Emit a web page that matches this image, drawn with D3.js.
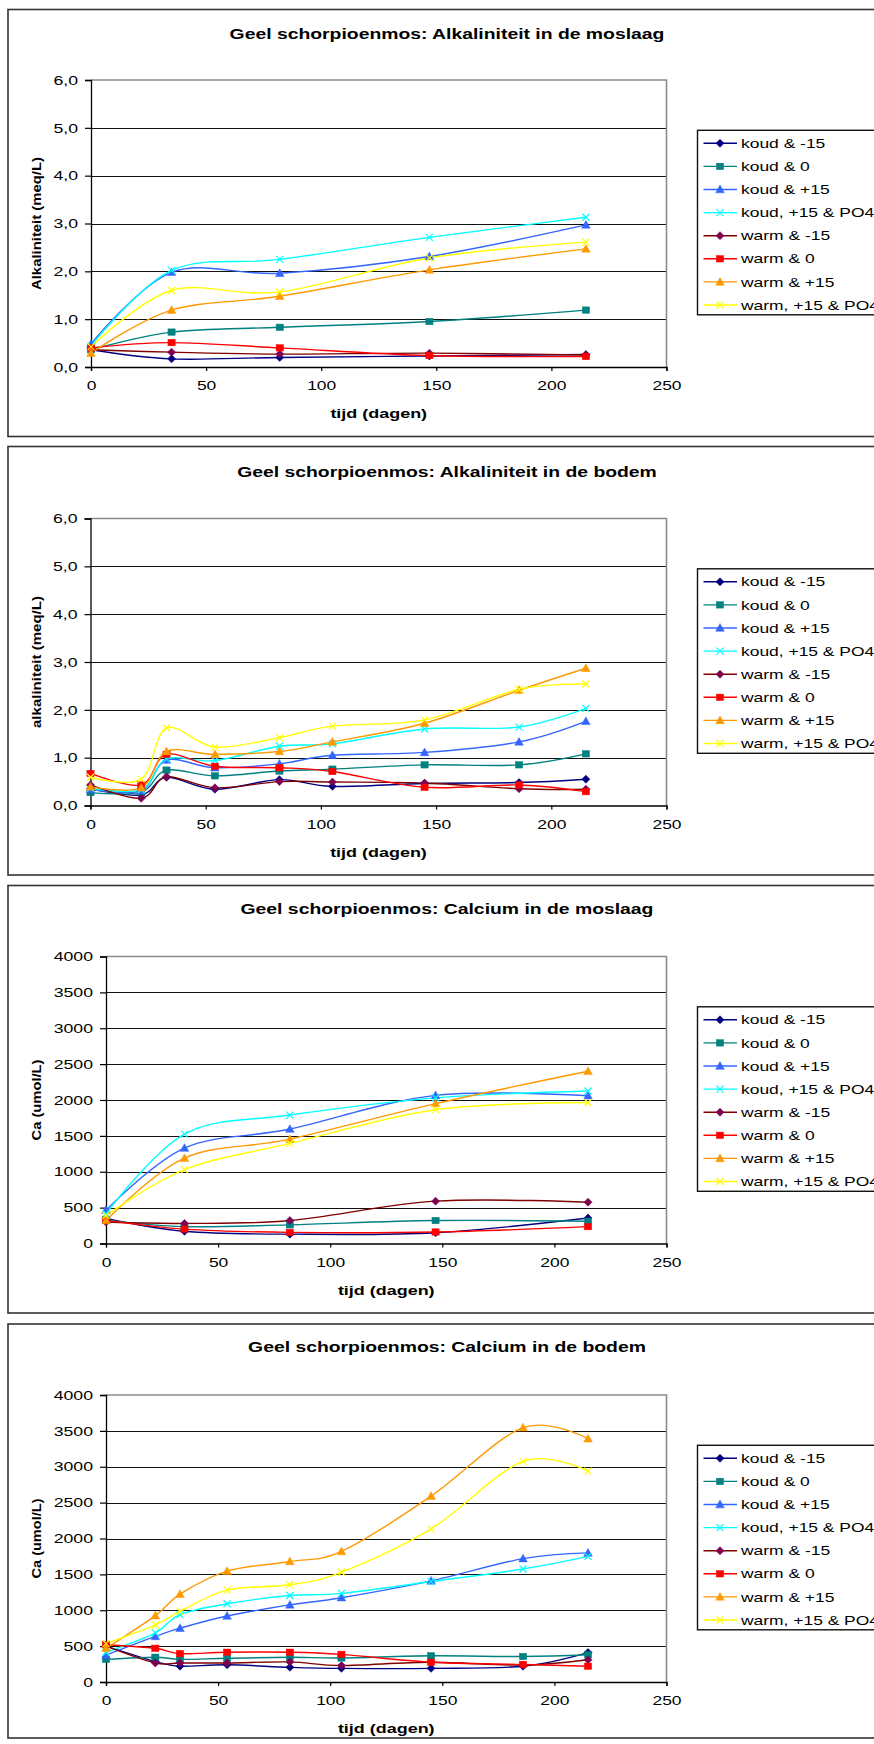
<!DOCTYPE html>
<html>
<head>
<meta charset="utf-8">
<script src="https://cdn.jsdelivr.net/npm/d3@7"></script>
<style>
  html, body { margin: 0; padding: 0; background: #fff; }
  svg { display: block; font-family: "Liberation Sans", Arial, sans-serif; }
</style>
</head>
<body>
<svg id="page" width="874" height="1744"></svg>
<script>
// ---- series names, colours and marker shapes ----
const seriesNames = ["koud & -15", "koud & 0", "koud & +15", "koud, +15 & PO4",
                     "warm & -15", "warm & 0", "warm & +15", "warm, +15 & PO4"];
const lineColors   = ["#000080", "#008080", "#3366FF", "#00FFFF", "#800000", "#FF0000", "#FF9900", "#FFFF00"];
const markerColors = ["#000080", "#008080", "#3366FF", "#00FFFF", "#800050", "#FF0000", "#FF9900", "#FFFF00"];
const markerShapes = ["diamond", "square", "triangle", "x", "diamond", "square", "triangle", "x"];

// ---- sampling days ----
const daysMoss = [0, 35, 82, 147, 215];
const daysSoil = [0, 22, 33, 54, 82, 105, 145, 186, 215];

// ---- alkalinity in the moss layer (meq/L) ----
const alkMoss = [
  [0.36, 0.17, 0.20, 0.23, 0.26],
  [0.36, 0.73, 0.83, 0.95, 1.19],
  [0.48, 1.98, 1.96, 2.31, 2.97],
  [0.44, 2.02, 2.25, 2.71, 3.13],
  [0.36, 0.31, 0.27, 0.29, 0.25],
  [0.40, 0.51, 0.40, 0.24, 0.22],
  [0.29, 1.19, 1.48, 2.03, 2.47],
  [0.42, 1.60, 1.57, 2.28, 2.61]
];

// ---- alkalinity in the soil (meq/L) ----
const alkSoil = [
  [0.35, 0.22, 0.59, 0.34, 0.54, 0.40, 0.46, 0.48, 0.55],
  [0.27, 0.28, 0.74, 0.62, 0.72, 0.76, 0.85, 0.85, 1.08],
  [0.34, 0.31, 0.95, 0.79, 0.87, 1.05, 1.11, 1.33, 1.76],
  [0.36, 0.33, 0.97, 0.94, 1.24, 1.29, 1.60, 1.64, 2.03],
  [0.43, 0.15, 0.60, 0.37, 0.50, 0.49, 0.47, 0.35, 0.34],
  [0.67, 0.43, 1.07, 0.82, 0.79, 0.71, 0.38, 0.43, 0.29],
  [0.39, 0.37, 1.13, 1.07, 1.13, 1.33, 1.72, 2.41, 2.87],
  [0.59, 0.55, 1.62, 1.22, 1.42, 1.66, 1.79, 2.43, 2.54]
];

// ---- calcium in the moss layer (umol/L) ----
const caMoss = [
  [350, 170, 130, 150, 355],
  [330, 235, 260, 320, 310],
  [465, 1330, 1595, 2065, 2060],
  [415, 1525, 1790, 2030, 2125],
  [300, 280, 320, 590, 575],
  [325, 200, 155, 160, 235],
  [320, 1190, 1455, 1950, 2400],
  [390, 1030, 1395, 1865, 1965]
];

// ---- calcium in the soil (umol/L) ----
const caSoil = [
  [500, 285, 220, 240, 205, 190, 190, 220, 410],
  [315, 345, 315, 330, 345, 335, 365, 355, 380],
  [375, 635, 750, 920, 1075, 1175, 1410, 1720, 1800],
  [415, 685, 940, 1090, 1205, 1235, 1400, 1575, 1750],
  [500, 265, 265, 265, 280, 230, 275, 235, 310],
  [520, 470, 395, 415, 415, 385, 275, 245, 220],
  [470, 925, 1225, 1545, 1680, 1820, 2590, 3545, 3390],
  [535, 795, 985, 1280, 1355, 1530, 2135, 3075, 2940]
];

// ---- titles and tick values ----
const chartTitles = [
  "Geel schorpioenmos: Alkaliniteit in de moslaag",
  "Geel schorpioenmos: Alkaliniteit in de bodem",
  "Geel schorpioenmos: Calcium in de moslaag",
  "Geel schorpioenmos: Calcium in de bodem"
];
const yTitles = ["Alkaliniteit (meq/L)", "alkaliniteit (meq/L)", "Ca (umol/L)", "Ca (umol/L)"];
const xTitle = "tijd (dagen)";
const xTicks = [0, 50, 100, 150, 200, 250];
const alkTicks = [0, 1, 2, 3, 4, 5, 6];
const caTicks = [0, 500, 1000, 1500, 2000, 2500, 3000, 3500, 4000];

// ---- panel layout ----
const panels = [
  {days: daysMoss, data: alkMoss, ticks: alkTicks, dec: true,  frameTop: 9.5,   frameBottom: 436.5, titleY: 33.5,  plotTop: 80,    left: 91,  yTitleLen: 133},
  {days: daysSoil, data: alkSoil, ticks: alkTicks, dec: true,  frameTop: 446.5, frameBottom: 875,   titleY: 471.5, plotTop: 518.5, left: 90.5, yTitleLen: 132},
  {days: daysMoss, data: caMoss,  ticks: caTicks,  dec: false, frameTop: 885.5, frameBottom: 1313,  titleY: 909,   plotTop: 956.5, left: 106, yTitleLen: 81},
  {days: daysSoil, data: caSoil,  ticks: caTicks,  dec: false, frameTop: 1324,  frameBottom: 1738,  titleY: 1347,  plotTop: 1395,  left: 106, yTitleLen: 80}
];
const plotRight = 666.5;
const plotHeight = 287;

const svg = d3.select("#page");
svg.append("rect").attr("width", 874).attr("height", 1744).attr("fill", "#fff");

// widen text horizontally by factor k while keeping its anchor
function widen(sel, k) {
  sel.each(function () {
    const w = this.getComputedTextLength();
    if (w > 0) {
      this.setAttribute("textLength", (w * k).toFixed(1));
      this.setAttribute("lengthAdjust", "spacingAndGlyphs");
    }
  });
}

function drawMarker(g, shape, color) {
  if (shape === "diamond") {
    g.append("path").attr("d", "M0,-4L4,0L0,4L-4,0Z").attr("fill", color).attr("stroke", color).attr("stroke-width", 0.6);
  } else if (shape === "square") {
    g.append("rect").attr("x", -3.6).attr("y", -3.2).attr("width", 7.2).attr("height", 6.4).attr("fill", color).attr("stroke", color).attr("stroke-width", 0.5);
  } else if (shape === "triangle") {
    g.append("path").attr("d", "M0,-4.4L4.3,3.3L-4.3,3.3Z").attr("fill", color).attr("stroke", color).attr("stroke-width", 0.5);
  } else {
    g.append("path").attr("d", "M-3.5,-3.5L3.5,3.5M-3.5,3.5L3.5,-3.5").attr("fill", "none").attr("stroke", color).attr("stroke-width", 1.2);
  }
}

const fmtDec = v => d3.format(".1f")(v).replace(".", ",");
const fmtInt = d3.format("d");

panels.forEach((p, ci) => {
  const g = svg.append("g");
  const plotBottom = p.plotTop + plotHeight;

  // chart frame (its right side runs past the page edge)
  g.append("rect")
    .attr("x", 8).attr("y", p.frameTop)
    .attr("width", 900).attr("height", p.frameBottom - p.frameTop)
    .attr("fill", "#fff").attr("stroke", "#333").attr("stroke-width", 1.6);

  // title
  g.append("text")
    .attr("x", 447).attr("y", p.titleY + 5)
    .attr("text-anchor", "middle")
    .attr("font-size", 15).attr("font-weight", "bold").attr("fill", "#000")
    .text(chartTitles[ci])
    .call(widen, 1.29);

  const x = d3.scaleLinear().domain([0, 250]).range([p.left, plotRight]);
  const yMax = p.ticks[p.ticks.length - 1];
  const y = d3.scaleLinear().domain([0, yMax]).range([plotBottom, p.plotTop]);

  // gridlines
  g.append("g").selectAll("line").data(p.ticks.slice(1, -1)).join("line")
    .attr("x1", p.left).attr("x2", plotRight)
    .attr("y1", d => Math.round(y(d)) + 0.5).attr("y2", d => Math.round(y(d)) + 0.5)
    .attr("stroke", "#111").attr("stroke-width", 1.1);

  // plot-area border (top and right)
  g.append("path")
    .attr("d", `M${p.left},${y(yMax)}H${plotRight}V${plotBottom}`)
    .attr("fill", "none").attr("stroke", "#8c8c8c").attr("stroke-width", 1.6);

  // y axis
  const yAxis = d3.axisLeft(y).tickValues(p.ticks).tickSize(6).tickPadding(7)
    .tickFormat(p.dec ? fmtDec : fmtInt);
  const ya = g.append("g").attr("transform", `translate(${p.left},0)`).call(yAxis);
  ya.select(".domain").attr("stroke", "#000").attr("stroke-width", 1.3);
  ya.selectAll(".tick line").attr("stroke", "#000").attr("stroke-width", 1.2);
  ya.selectAll(".tick text").attr("font-size", 13).attr("fill", "#000")
    .attr("font-family", "'Liberation Sans', Arial, sans-serif").call(widen, 1.36);

  // x axis
  const xAxis = d3.axisBottom(x).tickValues(xTicks).tickSize(4).tickPadding(10).tickFormat(fmtInt);
  const xa = g.append("g").attr("transform", `translate(0,${plotBottom})`).call(xAxis);
  xa.select(".domain").attr("stroke", "#000").attr("stroke-width", 1.3);
  xa.selectAll(".tick line").attr("stroke", "#000").attr("stroke-width", 1.2);
  xa.selectAll(".tick text").attr("font-size", 13).attr("fill", "#000")
    .attr("font-family", "'Liberation Sans', Arial, sans-serif").call(widen, 1.34);

  // axis titles
  g.append("text")
    .attr("x", (p.left + plotRight) / 2).attr("y", plotBottom + 51)
    .attr("text-anchor", "middle").attr("font-size", 13).attr("font-weight", "bold")
    .text(xTitle).call(widen, 1.38);

  g.append("text")
    .attr("transform", `translate(41,${p.plotTop + plotHeight / 2}) rotate(-90)`)
    .attr("text-anchor", "middle").attr("font-size", 13.5).attr("font-weight", "bold")
    .attr("textLength", p.yTitleLen).attr("lengthAdjust", "spacingAndGlyphs")
    .text(yTitles[ci]);

  // series lines (smoothed) and markers
  const line = d3.line()
    .x((d, i) => x(p.days[i]))
    .y(d => y(d))
    .curve(d3.curveCatmullRom.alpha(0));

  p.data.forEach((vals, si) => {
    g.append("path").datum(vals)
      .attr("d", line)
      .attr("fill", "none")
      .attr("stroke", lineColors[si])
      .attr("stroke-width", 1.4);
  });
  p.data.forEach((vals, si) => {
    vals.forEach((v, i) => {
      const mg = g.append("g").attr("transform", `translate(${x(p.days[i])},${y(v)})`);
      drawMarker(mg, markerShapes[si], markerColors[si]);
    });
  });

  // legend
  const legTop = p.plotTop + 50.3;
  const lg = g.append("g");
  lg.append("rect")
    .attr("x", 697.5).attr("y", legTop)
    .attr("width", 220).attr("height", 184.5)
    .attr("fill", "#fff").attr("stroke", "#111").attr("stroke-width", 1.4);
  seriesNames.forEach((name, si) => {
    const cy = legTop + 13 + si * 23.1;
    lg.append("line")
      .attr("x1", 703.5).attr("x2", 737).attr("y1", cy).attr("y2", cy)
      .attr("stroke", lineColors[si]).attr("stroke-width", 1.4);
    drawMarker(lg.append("g").attr("transform", `translate(720,${cy})`), markerShapes[si], markerColors[si]);
    lg.append("text")
      .attr("x", 741).attr("y", cy + 4.6)
      .attr("font-size", 13).attr("fill", "#000")
      .text(name).call(widen, 1.34);
  });
});
</script>
</body>
</html>
